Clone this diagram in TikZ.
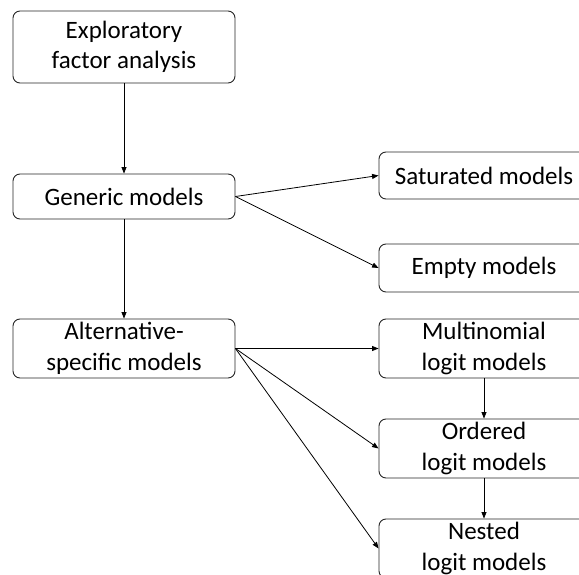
\documentclass[tikz,border=0pt]{standalone}
\usepackage{fontspec}
\setmainfont{Carlito}
\usetikzlibrary{arrows.meta}
\begin{document}
\begin{tikzpicture}[x=1pt,y=-1pt,
  box/.style={draw=black!85, line width=0.9pt, rounded corners=7pt, inner sep=0pt,
    align=center, font=\fontsize{25}{30.5}\selectfont},
  leftbox/.style={box, minimum width=222pt},
  rightbox/.style={box, minimum width=210pt},
  link/.style={line width=0.8pt, -{Triangle[length=6.5pt,width=5pt]}}]
\useasboundingbox (0,0) rectangle (579,575);
\clip (0,0) rectangle (579,575);
% left column
\node[leftbox, minimum height=72pt] (efa) at (124,47) {Exploratory\\factor analysis};
\node[leftbox, minimum height=45pt] (gen) at (124,196.5) {Generic models};
\node[leftbox, minimum height=59pt] (alt) at (124,348.5) {Alternative-\\specific models};
% right column
\node[rightbox, minimum height=47pt] (sat) at (484,175.5) {Saturated models};
\node[rightbox, minimum height=48pt] (emp) at (484,268) {Empty models};
\node[rightbox, minimum height=59pt] (mnl) at (484,348.5) {Multinomial\\logit models};
\node[rightbox, minimum height=59pt] (ord) at (484,448.5) {Ordered\\logit models};
\node[rightbox, minimum height=59pt] (nst) at (484,548.5) {Nested\\logit models};
% connectors
\draw[link] (efa) -- (gen);
\draw[link] (gen) -- (alt);
\draw[link] (gen.east) -- (sat.west);
\draw[link] (gen.east) -- (emp.west);
\draw[link] (alt.east) -- (mnl.west);
\draw[link] (alt.east) -- (ord.west);
\draw[link] (alt.east) -- (nst.west);
\draw[link] (mnl) -- (ord);
\draw[link] (ord) -- (nst);
\end{tikzpicture}
\end{document}
